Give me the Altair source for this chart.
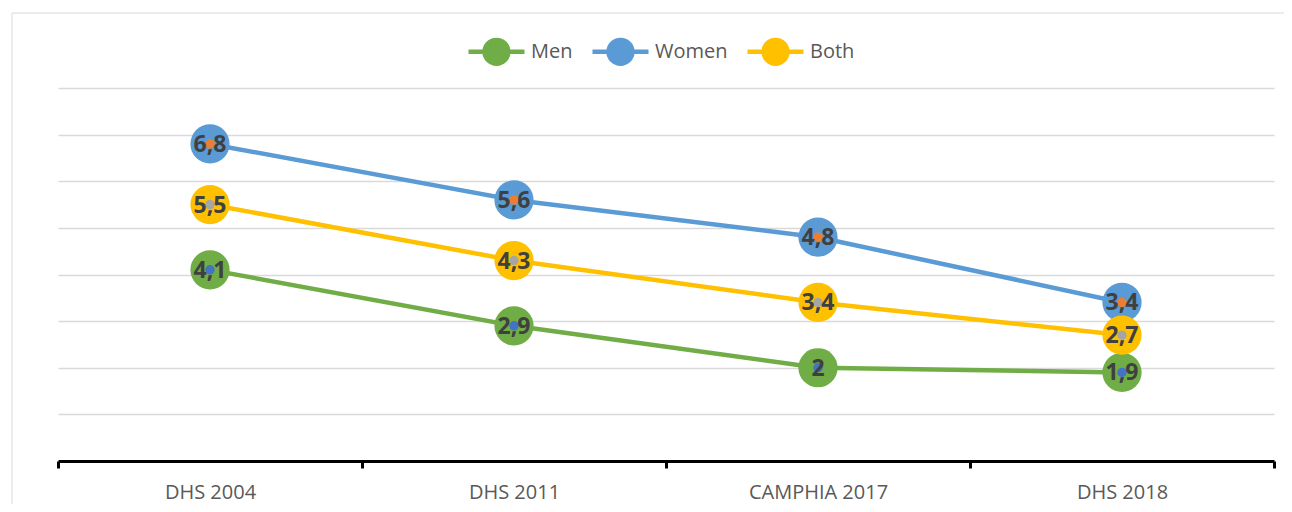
import altair as alt
import pandas as pd

categories = ["DHS 2004", "DHS 2011", "CAMPHIA 2017", "DHS 2018"]
series = ["Men", "Women", "Both"]
men = [4.1, 2.9, 2.0, 1.9]
women = [6.8, 5.6, 4.8, 3.4]
both = [5.5, 4.3, 3.4, 2.7]
grid_values = [1, 2, 3, 4, 5, 6, 7, 8]

line_colors = ["#70AD47", "#5B9BD5", "#FFC000"]
dot_colors = ["#4472C4", "#ED7D31", "#A5A5A5"]

rows = []
for s, vals in zip(series, [men, women, both]):
    for i, (c, v) in enumerate(zip(categories, vals)):
        rows.append({"survey": c, "series": s, "value": v, "idx": i,
                     "label": f"{v:g}".replace(".", ",")})
df = pd.DataFrame(rows)

FONT = "Open Sans"
W, H = 1216, 373

sym_path = ("M-2,0 L-0.85,0 M0.85,0 A0.85,0.85 0 1,1 -0.85,0 "
            "A0.85,0.85 0 1,1 0.85,0 M0.85,0 L2,0")

legend = alt.Legend(
    title=None, orient="none", direction="horizontal",
    legendX=422, legendY=-53,
    symbolType=sym_path, symbolSize=784, symbolStrokeWidth=4.5,
    symbolOpacity=1,
    labelFont=FONT, labelFontSize=20, labelColor="#595959",
    labelOffset=18, columnPadding=10,
)

x = alt.X("survey:N", sort=categories,
          scale=alt.Scale(paddingInner=0, paddingOuter=0),
          axis=alt.Axis(title=None, labelAngle=0, labelFont=FONT, labelFontSize=20,
                        labelColor="#595959", labelPadding=14,
                        domainColor="black", domainWidth=3,
                        tickColor="black", tickWidth=3, tickSize=7,
                        tickBand="extent", grid=False))
y = alt.Y("value:Q", scale=alt.Scale(domain=[0, 8], nice=False, zero=True),
          axis=alt.Axis(title=None, labels=False, ticks=False, domain=False,
                        values=grid_values, gridColor="#D9D9D9", gridWidth=1.3))

base = alt.Chart(df)

border = alt.Chart(pd.DataFrame({"a": [0]})).mark_rect(
    fill="transparent", stroke="#D9D9D9", strokeWidth=1
).encode(x=alt.value(-46), x2=alt.value(1400), y=alt.value(-75), y2=alt.value(700))

lines = base.mark_line(strokeWidth=4.5).encode(
    x=x, y=y,
    color=alt.Color("series:N", sort=series,
                    scale=alt.Scale(domain=series, range=line_colors), legend=legend),
    order=alt.Order("idx:Q"),
)

circles = base.mark_circle(size=1540, opacity=1).encode(
    x=x, y=y,
    fill=alt.Fill("series:N", sort=series,
                  scale=alt.Scale(domain=series, range=line_colors), legend=legend),
)

dots = base.mark_point(size=20, strokeWidth=5, opacity=1, filled=False).encode(
    x=x, y=y,
    stroke=alt.Stroke("series:N", sort=series,
                      scale=alt.Scale(domain=series, range=dot_colors), legend=None),
)

labels = base.mark_text(font=FONT, fontWeight="bold", fontSize=23,
                        color="#404040", dy=1).encode(
    x=x, y=y, text="label:N"
)

chart = alt.layer(border, lines, circles, dots, labels).properties(
    width=W, height=H,
    background="white",
    autosize=alt.AutoSizeParams(type="none"),
    padding={"left": 50, "top": 80, "right": 10, "bottom": 43},
).configure_view(stroke="transparent", strokeWidth=0)

chart.save("out.html", embed_options={"renderer": "svg", "actions": False})
